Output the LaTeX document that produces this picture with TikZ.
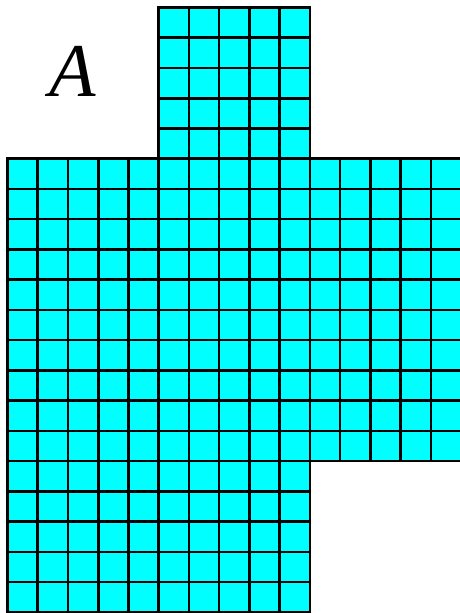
\documentclass[tikz,border=0pt]{standalone}
\usepackage{fontspec}
\setmainfont{Liberation Serif}
\definecolor{pcyan}{RGB}{0,255,255}
\begin{document}
\begin{tikzpicture}[x=1pt,y=-1pt,
  cell/.style={draw=black,fill=pcyan,line width=2.6pt}]
\useasboundingbox (0,0) rectangle (460,613);
\clip (0,0) rectangle (460,613);
\def\c{30.24}
% top block
\foreach \i in {5,...,9}
  \foreach \j in {0,...,4}
    \draw[cell] ({7.5+\i*\c},{7.5+\j*\c}) rectangle ++(\c,\c);
% main block
\foreach \i in {0,...,14}
  \foreach \j in {5,...,14}
    \draw[cell] ({7.5+\i*\c},{7.5+\j*\c}) rectangle ++(\c,\c);
% bottom block
\foreach \i in {0,...,9}
  \foreach \j in {15,...,19}
    \draw[cell] ({7.5+\i*\c},{7.5+\j*\c}) rectangle ++(\c,\c);
\node[font=\fontsize{76}{80}\selectfont\itshape, inner sep=0pt] (lblA) at (73,71) {A};
\end{tikzpicture}
\end{document}
